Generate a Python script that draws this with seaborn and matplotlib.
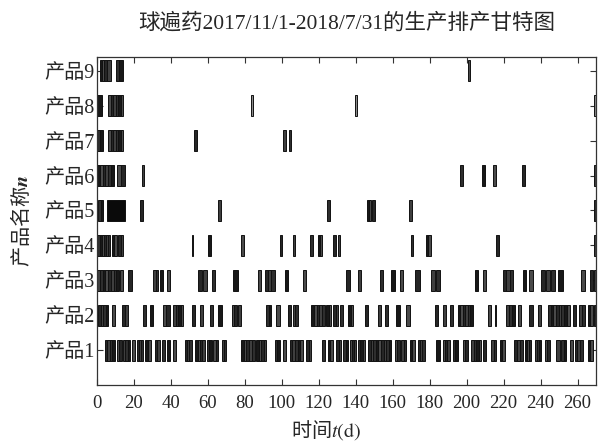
import matplotlib
matplotlib.use("Agg")
import matplotlib.pyplot as plt
import pandas as pd
import seaborn as sns

# (start day, duration in days) per product
BARS_1 = [(4.3, 1.3), (5.6, 1.4), (7.0, 1.2), (8.2, 1.5), (10.6, 1.3), (11.9, 1.4),
          (14.2, 1.2), (15.4, 1.2), (16.6, 1.2), (18.7, 1.8), (21.4, 1.2), (22.6, 1.0),
          (23.6, 1.4), (25.9, 1.8), (27.7, 1.8), (31.4, 1.3), (32.7, 1.3), (35.0, 1.8),
          (37.7, 1.8), (40.9, 2.1), (47.6, 1.2), (48.8, 1.2), (50.0, 1.2), (53.0, 1.4),
          (54.4, 1.2), (55.6, 1.4), (57.0, 1.4), (59.3, 1.4), (60.7, 1.3), (62.9, 1.3),
          (64.2, 1.4), (67.4, 1.3), (68.7, 1.3), (78.2, 1.4), (79.6, 1.2), (80.8, 1.6),
          (82.4, 1.5), (83.9, 1.5), (86.3, 1.3), (87.6, 1.4), (89.0, 1.2), (90.2, 1.5),
          (96.2, 1.3), (97.5, 1.4), (100.7, 1.8), (104.3, 1.3), (105.6, 1.5), (107.1, 1.4),
          (108.5, 1.5), (110.0, 1.5), (113.3, 1.3), (114.6, 1.4), (121.5, 1.7), (125.0, 1.3),
          (126.3, 1.4), (129.6, 1.4), (131.0, 1.3), (133.1, 1.4), (134.5, 1.4), (136.8, 1.2),
          (138.0, 1.2), (139.2, 1.2), (141.3, 1.2), (142.5, 1.2), (143.7, 1.2), (146.7, 1.4),
          (148.1, 1.3), (149.4, 1.4), (150.8, 1.3), (152.1, 1.5), (153.6, 1.5), (155.1, 1.5),
          (156.6, 1.3), (157.9, 1.4), (161.1, 1.3), (162.4, 1.4), (164.7, 1.3), (166.0, 1.4),
          (169.2, 1.3), (170.5, 1.4), (173.7, 1.2), (174.9, 1.2), (176.1, 1.2), (183.6, 1.8),
          (187.2, 1.2), (188.4, 1.2), (189.6, 1.2), (192.6, 1.3), (193.9, 1.4), (198.0, 1.3),
          (199.3, 1.4), (202.5, 1.4), (203.9, 1.3), (205.2, 1.4), (206.6, 1.3), (208.8, 1.8),
          (213.4, 1.3), (214.7, 1.4), (217.8, 1.3), (219.1, 1.4), (225.9, 1.5), (227.4, 1.5),
          (228.9, 1.5), (231.4, 1.2), (232.6, 1.2), (233.8, 1.2), (236.8, 1.2), (238.0, 1.2),
          (239.2, 1.2), (242.2, 1.3), (243.5, 1.4), (248.5, 1.8), (251.2, 1.3), (252.5, 1.4),
          (255.7, 1.8), (258.4, 1.5), (259.9, 1.5), (261.4, 1.5), (265.6, 1.3), (266.9, 1.4)]
BARS_2 = [(0.7, 1.3), (2.0, 1.4), (3.4, 1.3), (4.7, 1.4), (7.9, 1.8), (13.3, 1.8),
          (15.1, 1.8), (25.0, 1.8), (28.6, 1.8), (35.8, 1.8), (37.6, 1.9), (41.3, 1.3),
          (42.6, 1.4), (44.0, 1.2), (45.2, 1.4), (51.2, 1.8), (55.7, 1.8), (61.1, 1.8),
          (65.6, 1.8), (72.8, 1.3), (74.1, 1.4), (76.4, 1.8), (91.7, 1.3), (93.0, 1.4),
          (97.1, 1.8), (103.4, 1.8), (106.1, 1.3), (107.4, 1.4), (116.0, 1.5), (117.5, 1.4),
          (118.9, 1.5), (120.4, 1.4), (121.8, 1.4), (124.1, 1.3), (125.4, 1.4), (127.8, 1.3),
          (129.1, 1.3), (131.4, 1.7), (135.9, 1.3), (137.2, 1.4), (144.9, 1.7), (152.0, 1.9),
          (155.7, 1.8), (162.0, 1.8), (167.4, 1.8), (182.7, 1.8), (187.2, 1.8), (190.8, 1.8),
          (195.3, 1.3), (196.6, 1.3), (197.9, 1.4), (199.3, 1.3), (200.6, 1.4), (202.0, 1.4),
          (211.5, 1.8), (215.1, 1.0), (221.5, 1.5), (223.0, 1.5), (224.5, 1.5), (227.7, 1.8),
          (234.0, 1.8), (238.5, 1.8), (244.0, 1.5), (245.5, 1.4), (246.9, 1.5), (248.4, 1.5),
          (249.9, 1.4), (251.3, 1.5), (252.8, 1.4), (254.2, 1.5), (257.5, 1.8), (261.0, 1.4),
          (262.4, 1.4), (265.6, 1.3), (266.9, 1.4), (268.9, 1.5)]
BARS_3 = [(0.2, 1.4), (1.6, 1.5), (3.1, 1.5), (4.6, 1.4), (6.0, 1.5), (7.5, 1.5),
          (9.0, 1.4), (10.4, 1.4), (12.5, 1.7), (16.9, 1.8), (30.4, 1.3), (31.7, 1.4),
          (34.0, 1.8), (37.7, 1.8), (54.8, 1.8), (57.5, 1.8), (62.0, 1.8), (73.7, 2.7),
          (87.2, 1.8), (90.8, 1.8), (92.6, 1.8), (94.4, 1.8), (101.6, 1.8), (111.5, 1.8),
          (135.0, 1.8), (141.3, 1.8), (153.0, 1.8), (159.3, 1.8), (163.8, 1.8), (171.9, 2.7),
          (180.9, 1.8), (183.6, 1.8), (204.3, 1.8), (208.8, 1.8), (219.6, 1.8), (221.4, 1.8),
          (223.2, 1.8), (230.4, 1.8), (234.0, 1.8), (240.4, 1.8), (243.1, 1.8), (245.8, 1.8),
          (249.4, 2.7), (262.0, 1.8), (266.5, 1.8), (268.9, 1.5)]
BARS_4 = [(0.2, 1.2), (1.4, 1.1), (2.5, 1.2), (3.7, 1.1), (4.8, 1.1), (5.9, 1.1),
          (7.9, 1.3), (9.2, 1.4), (11.5, 1.3), (12.8, 1.4), (51.2, 1.0), (60.2, 1.3),
          (78.2, 1.4), (99.3, 1.0), (105.8, 1.1), (115.5, 1.4), (119.6, 1.0), (120.6, 0.9),
          (127.8, 1.4), (130.4, 1.3), (169.7, 1.3), (177.8, 1.5), (179.3, 1.6), (216.1, 1.4),
          (268.9, 1.5)]
BARS_5 = [(0.7, 1.3), (2.0, 1.4), (5.2, 9.9), (23.2, 1.5), (65.6, 1.4), (124.5, 1.4),
          (146.3, 1.1), (147.4, 1.1), (149.0, 1.6), (168.8, 1.5), (268.9, 1.5)]
BARS_6 = [(0.2, 1.5), (1.7, 1.4), (3.1, 1.5), (4.6, 1.5), (6.1, 1.5), (7.6, 1.4),
          (11.0, 2.0), (13.0, 2.1), (24.1, 1.3), (196.6, 1.4), (208.5, 1.2), (214.2, 1.8),
          (230.1, 1.3), (268.9, 1.5)]
BARS_7 = [(0.2, 1.6), (1.8, 1.6), (6.1, 1.3), (7.4, 1.4), (8.8, 1.3), (10.1, 1.4),
          (11.5, 1.3), (12.8, 1.4), (52.6, 1.3), (100.7, 1.5), (104.0, 1.2)]
BARS_8 = [(0.2, 2.3), (6.1, 1.3), (7.4, 1.4), (8.8, 1.3), (10.1, 1.4), (11.5, 1.3),
          (12.8, 1.4), (83.2, 1.3), (139.5, 1.2), (268.9, 1.5)]
BARS_9 = [(1.6, 1.2), (2.8, 1.2), (4.0, 1.2), (5.6, 1.8), (10.3, 1.8), (12.1, 1.8),
          (200.7, 1.0)]

PRODUCTS = ["产品1", "产品2", "产品3", "产品4", "产品5", "产品6", "产品7", "产品8", "产品9"]
ALL_BARS = [BARS_1, BARS_2, BARS_3, BARS_4, BARS_5, BARS_6, BARS_7, BARS_8, BARS_9]
X_TICKS = list(range(0, 261, 20))

rows = []
for n, bars in enumerate(ALL_BARS, start=1):
    for start, dur in bars:
        rows.append({"product": n, "start": start, "dur": dur})
df = pd.DataFrame(rows)

sns.set_theme(style="ticks")
plt.rcParams["font.family"] = ["Liberation Serif", "Noto Sans CJK SC"]
plt.rcParams["mathtext.fontset"] = "stix"
plt.rcParams["axes.unicode_minus"] = False

fig = plt.figure(figsize=(6.06, 4.44), dpi=100)
ax = fig.add_axes([0.16, 0.133, 0.8235, 0.739])

# grey shades, product 8 has light bars later on, the long product 5 block is black
shades = ["#262626", "#3f3f3f", "#2e2e2e", "#181818", "#4a4a4a"]
face = []
for i, (p, s, d) in enumerate(zip(df["product"], df["start"], df["dur"])):
    if p == 8 and s > 50:
        face.append("#8a8a8a")
    elif d > 5:
        face.append("#0a0a0a")
    else:
        face.append(shades[i % len(shades)])
ax.barh(df["product"], df["dur"], left=df["start"], height=0.6,
        color=face, edgecolor="#111111", linewidth=0.7)

ax.set_xlim(0, 270)
ax.set_ylim(0, 9.4)
ax.set_xticks(X_TICKS)
ax.set_yticks(range(1, 10))
ax.set_yticklabels(PRODUCTS)
ax.tick_params(direction="in", top=True, right=True, length=4, width=0.8,
               color="#333333")
ax.tick_params(axis="x", pad=7, labelsize=13.5)
ax.tick_params(axis="y", pad=2, labelsize=14.5)
for sp in ax.spines.values():
    sp.set_color("#333333")
    sp.set_linewidth(0.9)

ax.set_title("球遍药2017/11/1-2018/7/31的生产排产甘特图", fontsize=15.5, pad=20)
ax.set_xlabel("时间$t\\mathrm{(d)}$", fontsize=14.5, fontfamily="Noto Sans CJK SC")
ax.xaxis.set_label_coords(0.459, -0.1)
ax.set_ylabel("产品名称$\\mathbfit{n}$", fontsize=14.5, labelpad=8,
              fontfamily="Noto Sans CJK SC")

fig.savefig("out.png", dpi=100)
